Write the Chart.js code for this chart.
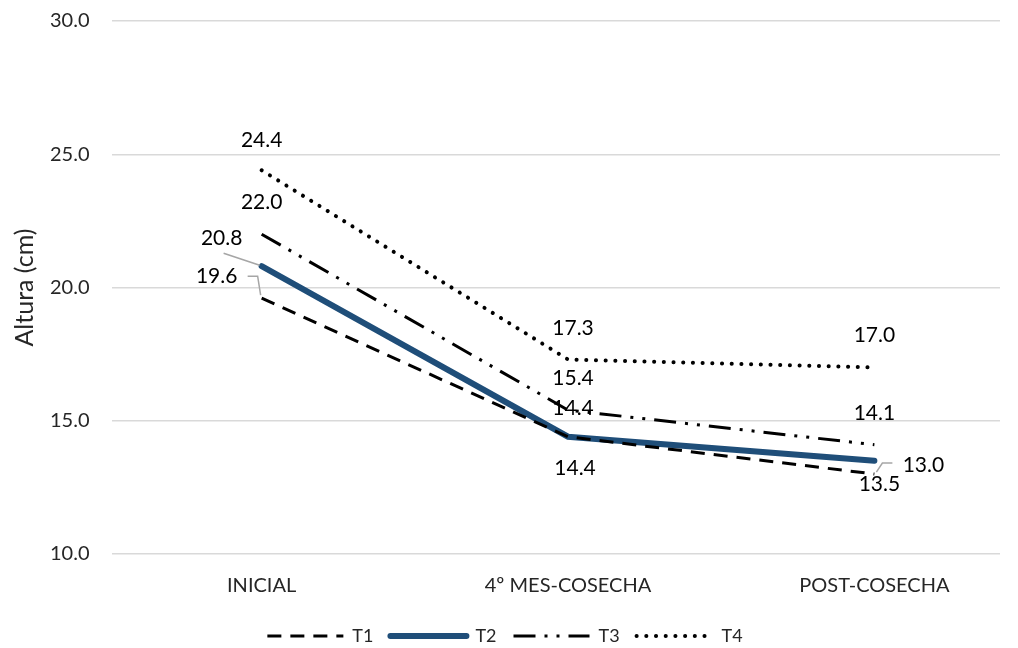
<!DOCTYPE html>
<html>
<head>
<meta charset="utf-8">
<script src="https://cdn.jsdelivr.net/npm/chart.js@4"></script>
<style>
  html, body { margin: 0; padding: 0; background: #fff; }
  #frame { width: 1018px; height: 648px; overflow: hidden; position: relative; }
  #wrap { position: absolute; left: 0; top: -13px; width: 1018px; height: 668px; }
</style>
</head>
<body>
<div id="frame"><div id="wrap"><canvas id="chart"></canvas></div></div>
<script>
const categories = ["INICIAL", "4º MES-COSECHA", "POST-COSECHA"];
const t1 = [19.6, 14.4, 13.0];
const t2 = [20.8, 14.4, 13.5];
const t3 = [22.0, 15.4, 14.1];
const t4 = [24.4, 17.3, 17.0];
const yTicks = [10, 15, 20, 25, 30];

// where each value label sits relative to its point, plus optional leader line
const labelPlace = {
  T1: [{ dx: -45, dy: -22, leader: [[-14, -22], [-4, -22], [-1, -3]] }, { dx: 7, dy: 31 }, { dx: 49, dy: -9, leader: [[18, -11], [8, -11], [2, -2]] }],
  T2: [{ dx: -40, dy: -28, leader: [[-38, -13], [-2, -1]] }, { dx: 5, dy: -29 }, { dx: 5, dy: 24 }],
  T3: [{ dx: 0, dy: -32 }, { dx: 5, dy: -32 }, { dx: 0, dy: -32 }],
  T4: [{ dx: 0, dy: -30 }, { dx: 5, dy: -31 }, { dx: 0, dy: -32 }]
};

const toPoints = arr => arr.map((v, i) => ({ x: i, y: v }));

const valueLabels = {
  id: "valueLabels",
  afterDatasetsDraw(chart) {
    const ctx = chart.ctx;
    ctx.save();
    ctx.font = "21px Lato";
    ctx.fillStyle = "#000";
    ctx.textAlign = "center";
    ctx.textBaseline = "middle";
    chart.data.datasets.forEach((ds, di) => {
      const meta = chart.getDatasetMeta(di);
      meta.data.forEach((pt, i) => {
        const p = labelPlace[ds.label][i];
        if (p.leader) {
          ctx.strokeStyle = "#A6A6A6";
          ctx.lineWidth = 1.5;
          ctx.setLineDash([]);
          ctx.beginPath();
          p.leader.forEach(([lx, ly], k) => {
            if (k === 0) ctx.moveTo(pt.x + lx, pt.y + ly);
            else ctx.lineTo(pt.x + lx, pt.y + ly);
          });
          ctx.stroke();
        }
        ctx.fillText(ds.data[i].y.toFixed(1), pt.x + p.dx, pt.y + p.dy);
      });
    });
    ctx.restore();
  }
};

new Chart(document.getElementById("chart"), {
  type: "line",
  data: {
    datasets: [
      { label: "T1", data: toPoints(t1), borderColor: "#000", borderWidth: 3, borderDash: [14, 9] },
      { label: "T2", data: toPoints(t2), borderColor: "#1F4E79", borderWidth: 6, borderCapStyle: "round" },
      { label: "T3", data: toPoints(t3), borderColor: "#000", borderWidth: 3, borderDash: [22, 9, 3, 9, 3, 9] },
      { label: "T4", data: toPoints(t4), borderColor: "#000", borderWidth: 4, borderDash: [0.1, 9.6], borderCapStyle: "round" }
    ]
  },
  options: {
    responsive: true,
    maintainAspectRatio: false,
    animation: false,
    elements: { point: { radius: 0 }, line: { tension: 0 } },
    layout: { padding: { top: 0, right: 18, bottom: 0, left: 10 } },
    scales: {
      x: {
        type: "linear",
        min: -0.49,
        max: 2.41,
        afterBuildTicks: axis => { axis.ticks = categories.map((c, i) => ({ value: i })); },
        ticks: {
          callback: v => categories[v],
          color: "#262626",
          font: { family: "Lato", size: 20 },
          padding: 12,
          maxRotation: 0
        },
        grid: { display: false },
        border: { display: false }
      },
      y: {
        min: 10,
        max: 30,
        afterBuildTicks: axis => { axis.ticks = yTicks.map(v => ({ value: v })); },
        ticks: {
          callback: v => v.toFixed(1),
          color: "#262626",
          font: { family: "Lato", size: 20 },
          padding: 22
        },
        grid: { color: "#D9D9D9", lineWidth: 1.5, drawTicks: false },
        border: { display: false },
        title: { display: true, text: "Altura (cm)", color: "#262626", font: { family: "Lato", size: 25 }, padding: { top: 0, bottom: -12 } }
      }
    },
    plugins: {
      tooltip: { enabled: false },
      legend: {
        position: "bottom",
        labels: {
          usePointStyle: true,
          pointStyle: "line",
          pointStyleWidth: 76,
          color: "#262626",
          font: { family: "Lato", size: 18 },
          padding: 17,
          generateLabels: chart => Chart.defaults.plugins.legend.labels.generateLabels(chart).map((item, i) => {
            const ds = chart.data.datasets[i];
            item.pointStyle = "line";
            item.strokeStyle = ds.borderColor;
            item.lineWidth = ds.borderWidth;
            item.lineDash = ds.borderDash || [];
            item.lineCap = ds.borderCapStyle || "butt";
            return item;
          })
        }
      }
    }
  },
  plugins: [valueLabels]
});
</script>
</body>
</html>
